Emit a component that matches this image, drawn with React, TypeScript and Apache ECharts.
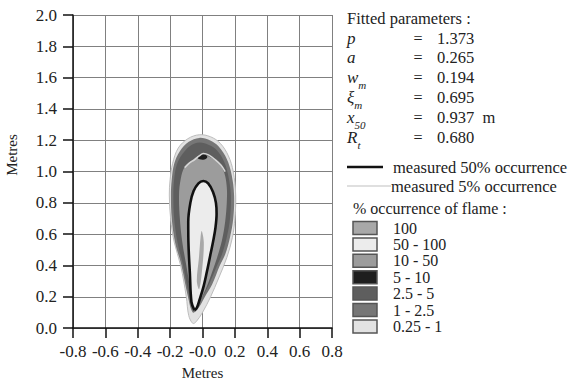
import React, { useEffect, useRef } from "react";
import * as echarts from "echarts";

const xTickLabels = ["-0.8", "-0.6", "-0.4", "-0.2", "-0.0", "0.2", "0.4", "0.6", "0.8"];
const yTickLabels = ["0.0", "0.2", "0.4", "0.6", "0.8", "1.0", "1.2", "1.4", "1.6", "1.8", "2.0"];

// flame occurrence regions (x, y in metres)
const region025to1: number[][] = [
  [-0.06, 0.03], [-0.085, 0.08], [-0.1, 0.2], [-0.135, 0.4], [-0.175, 0.55], [-0.197, 0.7],
  [-0.205, 0.85], [-0.2, 0.95], [-0.185, 1.05], [-0.15, 1.15], [-0.09, 1.21], [-0.02, 1.235],
  [0.05, 1.222], [0.11, 1.18], [0.16, 1.1], [0.19, 1.0], [0.205, 0.85], [0.2, 0.7],
  [0.185, 0.58], [0.15, 0.45], [0.1, 0.32], [0.05, 0.2], [0.0, 0.1], [-0.04, 0.04],
];
const region1to25: number[][] = [
  [-0.06, 0.1], [-0.09, 0.2], [-0.13, 0.4], [-0.17, 0.55], [-0.19, 0.7], [-0.195, 0.85],
  [-0.19, 0.95], [-0.175, 1.05], [-0.14, 1.13], [-0.085, 1.19], [-0.02, 1.215], [0.045, 1.2],
  [0.1, 1.16], [0.15, 1.08], [0.18, 0.98], [0.195, 0.85], [0.19, 0.7], [0.17, 0.58],
  [0.14, 0.47], [0.107, 0.4], [0.06, 0.28], [0.015, 0.2], [-0.03, 0.12],
];
const region25to5: number[][] = [
  [-0.06, 0.13], [-0.085, 0.22], [-0.12, 0.4], [-0.155, 0.55], [-0.175, 0.7], [-0.18, 0.85],
  [-0.175, 0.95], [-0.16, 1.04], [-0.125, 1.11], [-0.075, 1.165], [-0.02, 1.185], [0.04, 1.17],
  [0.09, 1.135], [0.135, 1.06], [0.16, 0.97], [0.175, 0.85], [0.17, 0.7], [0.15, 0.58],
  [0.12, 0.47], [0.09, 0.4], [0.045, 0.29], [0.005, 0.21], [-0.035, 0.15],
];
const region10to50: number[][] = [
  [-0.055, 0.14], [-0.075, 0.25], [-0.1, 0.4], [-0.125, 0.55], [-0.14, 0.7], [-0.145, 0.85],
  [-0.135, 0.95], [-0.11, 1.03], [-0.06, 1.075], [0.0, 1.11], [0.05, 1.09], [0.1, 1.06],
  [0.135, 0.99], [0.15, 0.9], [0.15, 0.8], [0.14, 0.68], [0.12, 0.56], [0.09, 0.45],
  [0.06, 0.36], [0.02, 0.25], [-0.02, 0.17],
];
const region5to10: number[][] = [
  [-0.03, 1.085], [-0.015, 1.105], [0.01, 1.11], [0.03, 1.095], [0.02, 1.08], [0.0, 1.076],
];
const contour50: number[][] = [
  [-0.05, 0.115], [-0.068, 0.165], [-0.078, 0.35], [-0.087, 0.55], [-0.088, 0.68], [-0.075, 0.8],
  [-0.055, 0.875], [-0.025, 0.925], [0.005, 0.94], [0.035, 0.925], [0.065, 0.87], [0.083, 0.8],
  [0.087, 0.73], [0.08, 0.64], [0.066, 0.557], [0.045, 0.45], [0.025, 0.35], [0.005, 0.26],
  [-0.017, 0.185], [-0.035, 0.13], [-0.05, 0.115],
];
const region100: number[][] = [
  [-0.005, 0.62], [0.008, 0.55], [0.0, 0.4], [-0.02, 0.25], [-0.035, 0.3], [-0.022, 0.45], [-0.012, 0.58],
];
const contour5: number[][] = [
  [-0.11, 1.025], [-0.08, 1.055], [-0.05, 1.075], [-0.02, 1.1], [0.005, 1.115], [0.04, 1.105],
  [0.08, 1.075], [0.115, 1.04], [0.14, 1.0],
];

const paramSymbols = ["p", "a", "w", "ξ", "x", "R"];
const paramSubs = ["", "", "m", "m", "50", "t"];
const paramValues = ["1.373", "0.265", "0.194", "0.695", "0.937  m", "0.680"];

const occurrenceClasses = ["100", "50 - 100", "10 - 50", "5 - 10", "2.5 - 5", "1 - 2.5", "0.25 - 1"];

const SERIF = "Liberation Serif";
const classColors = ["#a8a8a8", "#ececec", "#9c9c9c", "#1e1e1e", "#5e5e5e", "#767676", "#e2e2e2"];

function polySeries(pts: number[][], fill: string, z: number, stroke?: string) {
  return {
    type: "custom",
    coordinateSystem: "cartesian2d",
    data: [[0, 0]],
    silent: true,
    z,
    renderItem: (_p: any, api: any) => ({
      type: "polygon",
      shape: { points: pts.map((p) => api.coord(p)), smooth: 0.35 },
      style: { fill, stroke: stroke || "none", lineWidth: 1 },
    }),
  };
}

export default function App() {
  const ref = useRef<HTMLDivElement>(null);
  useEffect(() => {
    if (!ref.current) return;
    const chart = echarts.init(ref.current, null, { renderer: "svg" });
    const graphic: any[] = [];
    const T = (text: string, x: number, y: number, size = 16, extra: any = {}) => ({
      type: "text",
      x,
      y,
      rotation: extra.rotation || 0,
      style: {
        text,
        fontFamily: SERIF,
        fontSize: size,
        fontStyle: extra.italic ? "italic" : "normal",
        fill: "#222",
        textAlign: extra.align || "left",
        align: extra.align || "left",
        textVerticalAlign: "middle",
        verticalAlign: "middle",
        rich: extra.rich,
      },
    });
    graphic.push(T("Metres", 12, 155, 15, { align: "center", rotation: Math.PI / 2 }));
    graphic.push(T("Fitted parameters :", 347, 18, 16.5));
    paramSymbols.forEach((s, i) => {
      const y = 38 + i * 19.8;
      const txt = paramSubs[i] ? `{i|${s}}{s|${paramSubs[i]}}` : `{i|${s}}`;
      graphic.push(
        T(txt, 347, y, 16, {
          rich: {
            i: { fontFamily: SERIF, fontStyle: "italic", fontSize: 17, lineHeight: 26, verticalAlign: "middle", fill: "#222" },
            s: { fontFamily: SERIF, fontStyle: "italic", fontSize: 11, lineHeight: 26, verticalAlign: "bottom", fill: "#222" },
          },
        })
      );
      graphic.push(T("=", 418, y, 16, { align: "center" }));
      graphic.push(T(paramValues[i], 437, y, 16.5));
    });
    graphic.push({ type: "line", shape: { x1: 347, y1: 167, x2: 383, y2: 167 }, style: { stroke: "#111", lineWidth: 2.5 } });
    graphic.push(T("measured 50% occurrence", 393, 167, 16.5));
    graphic.push({ type: "line", shape: { x1: 347, y1: 186, x2: 391, y2: 186 }, style: { stroke: "#c0c0c0", lineWidth: 1.2 } });
    graphic.push(T("measured 5% occurrence", 391, 186, 16.5));
    graphic.push(T("% occurrence of flame :", 353, 208, 16));
    occurrenceClasses.forEach((c, i) => {
      const y = 228 + i * 16.4;
      graphic.push({
        type: "rect",
        shape: { x: 353, y: y - 6.5, width: 24, height: 13 },
        style: { fill: classColors[i], stroke: "#555", lineWidth: 1.5 },
      });
      graphic.push(T(c, 393, y, 16));
    });

    chart.setOption({
      animation: false,
      backgroundColor: "#fff",
      grid: { left: 73, right: 238, top: 15, bottom: 48 },
      xAxis: {
        type: "value",
        min: -0.8,
        max: 0.8,
        interval: 0.2,
        name: "Metres",
        nameLocation: "middle",
        nameGap: 35,
        nameTextStyle: { fontFamily: SERIF, fontSize: 15, color: "#222" },
        axisLine: { show: true, onZero: false, lineStyle: { color: "#111", width: 1.5 } },
        axisTick: { show: true, length: 10, lineStyle: { color: "#111", width: 1.5 } },
        axisLabel: {
          margin: 15,
          fontFamily: SERIF,
          fontSize: 17,
          color: "#222",
          hideOverlap: false,
          formatter: (_v: number, i: number) => xTickLabels[i] ?? "",
        },
        splitLine: { show: true, lineStyle: { color: "#808080", width: 1 } },
      },
      yAxis: {
        type: "value",
        min: 0,
        max: 2,
        interval: 0.2,
        axisLine: { show: true, onZero: false, lineStyle: { color: "#111", width: 1.5 } },
        axisTick: { show: true, length: 10, lineStyle: { color: "#111", width: 1.5 } },
        axisLabel: {
          margin: 16,
          fontFamily: SERIF,
          fontSize: 17,
          color: "#222",
          formatter: (_v: number, i: number) => yTickLabels[i] ?? "",
        },
        splitLine: { show: true, lineStyle: { color: "#808080", width: 1 } },
      },
      graphic,
      series: [
        polySeries(region025to1, classColors[6], 2, "#bdbdbd"),
        polySeries(region1to25, classColors[5], 3),
        polySeries(region25to5, classColors[4], 4),
        polySeries(region10to50, classColors[2], 5),
        polySeries(region5to10, classColors[3], 6),
        polySeries(contour50, classColors[1], 7),
        polySeries(region100, classColors[0], 8),
        {
          type: "line",
          data: contour50,
          smooth: 0.35,
          symbol: "none",
          silent: true,
          z: 9,
          lineStyle: { color: "#111", width: 2.6 },
        },
        {
          type: "line",
          data: contour5,
          smooth: 0.35,
          symbol: "none",
          silent: true,
          z: 9,
          lineStyle: { color: "#d6d6d6", width: 1.5 },
        },
      ],
    });
    return () => chart.dispose();
  }, []);
  return (
    <div
      ref={ref}
      style={{ position: "fixed", left: 0, top: 0, width: 570, height: 385, background: "#fff" }}
    />
  );
}
